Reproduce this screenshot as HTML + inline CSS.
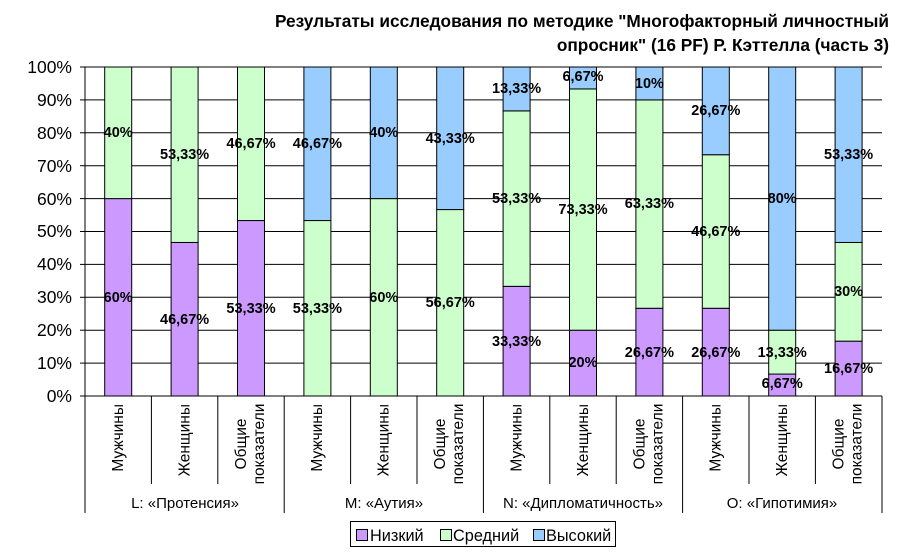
<!DOCTYPE html>
<html><head><meta charset="utf-8"><style>body{margin:0;background:#fff}svg{display:block}</style></head><body>
<svg width="897" height="557" xmlns="http://www.w3.org/2000/svg" font-family="Liberation Sans, Arial, sans-serif">
<g font-weight="bold" font-size="17.3" text-anchor="end">
<text x="889" y="27">Результаты исследования по методике "Многофакторный личностный</text>
<text x="889" y="51">опросник" (16 PF) Р. Кэттелла (часть 3)</text>
</g>
<g stroke="#000" stroke-width="1">
<line x1="85" y1="67" x2="882" y2="67"/><line x1="85" y1="99.9" x2="882" y2="99.9"/><line x1="85" y1="132.8" x2="882" y2="132.8"/><line x1="85" y1="165.7" x2="882" y2="165.7"/><line x1="85" y1="198.6" x2="882" y2="198.6"/><line x1="85" y1="231.5" x2="882" y2="231.5"/><line x1="85" y1="264.4" x2="882" y2="264.4"/><line x1="85" y1="297.3" x2="882" y2="297.3"/><line x1="85" y1="330.2" x2="882" y2="330.2"/><line x1="85" y1="363.1" x2="882" y2="363.1"/><line x1="80" y1="396" x2="882" y2="396"/>
<line x1="80" y1="67" x2="85" y2="67"/><line x1="80" y1="99.9" x2="85" y2="99.9"/><line x1="80" y1="132.8" x2="85" y2="132.8"/><line x1="80" y1="165.7" x2="85" y2="165.7"/><line x1="80" y1="198.6" x2="85" y2="198.6"/><line x1="80" y1="231.5" x2="85" y2="231.5"/><line x1="80" y1="264.4" x2="85" y2="264.4"/><line x1="80" y1="297.3" x2="85" y2="297.3"/><line x1="80" y1="330.2" x2="85" y2="330.2"/><line x1="80" y1="363.1" x2="85" y2="363.1"/>
<line x1="85" y1="67" x2="85" y2="513"/>
<line x1="151.4" y1="396" x2="151.4" y2="484"/><line x1="217.8" y1="396" x2="217.8" y2="484"/><line x1="284.2" y1="396" x2="284.2" y2="513"/><line x1="350.6" y1="396" x2="350.6" y2="484"/><line x1="417" y1="396" x2="417" y2="484"/><line x1="483.4" y1="396" x2="483.4" y2="513"/><line x1="549.8" y1="396" x2="549.8" y2="484"/><line x1="616.2" y1="396" x2="616.2" y2="484"/><line x1="682.6" y1="396" x2="682.6" y2="513"/><line x1="749" y1="396" x2="749" y2="484"/><line x1="815.4" y1="396" x2="815.4" y2="484"/><line x1="882" y1="396" x2="882" y2="513"/>
</g>
<g font-size="17.5" text-anchor="end">
<text x="72" y="73">100%</text><text x="72" y="106">90%</text><text x="72" y="139">80%</text><text x="72" y="172">70%</text><text x="72" y="205">60%</text><text x="72" y="237">50%</text><text x="72" y="270">40%</text><text x="72" y="303">30%</text><text x="72" y="336">20%</text><text x="72" y="369">10%</text><text x="72" y="402">0%</text>
</g>
<g stroke="#000" stroke-width="1">
<rect x="104.7" y="198.6" width="27" height="197.4" fill="#CC99FF"/><rect x="104.7" y="67" width="27" height="131.6" fill="#CCFFCC"/>
<rect x="171.1" y="242.46" width="27" height="153.54" fill="#CC99FF"/><rect x="171.1" y="67" width="27" height="175.46" fill="#CCFFCC"/>
<rect x="237.5" y="220.54" width="27" height="175.46" fill="#CC99FF"/><rect x="237.5" y="67" width="27" height="153.54" fill="#CCFFCC"/>
<rect x="303.9" y="220.54" width="27" height="175.46" fill="#CCFFCC"/><rect x="303.9" y="67" width="27" height="153.54" fill="#99CCFF"/>
<rect x="370.3" y="198.6" width="27" height="197.4" fill="#CCFFCC"/><rect x="370.3" y="67" width="27" height="131.6" fill="#99CCFF"/>
<rect x="436.7" y="209.56" width="27" height="186.44" fill="#CCFFCC"/><rect x="436.7" y="67" width="27" height="142.56" fill="#99CCFF"/>
<rect x="503.1" y="286.34" width="27" height="109.66" fill="#CC99FF"/><rect x="503.1" y="110.89" width="27" height="175.45" fill="#CCFFCC"/><rect x="503.1" y="67" width="27" height="43.89" fill="#99CCFF"/>
<rect x="569.5" y="330.2" width="27" height="65.8" fill="#CC99FF"/><rect x="569.5" y="88.94" width="27" height="241.26" fill="#CCFFCC"/><rect x="569.5" y="67" width="27" height="21.94" fill="#99CCFF"/>
<rect x="635.9" y="308.26" width="27" height="87.74" fill="#CC99FF"/><rect x="635.9" y="99.9" width="27" height="208.36" fill="#CCFFCC"/><rect x="635.9" y="67" width="27" height="32.9" fill="#99CCFF"/>
<rect x="702.3" y="308.26" width="27" height="87.74" fill="#CC99FF"/><rect x="702.3" y="154.71" width="27" height="153.55" fill="#CCFFCC"/><rect x="702.3" y="67" width="27" height="87.71" fill="#99CCFF"/>
<rect x="768.7" y="374.06" width="27" height="21.94" fill="#CC99FF"/><rect x="768.7" y="330.2" width="27" height="43.86" fill="#CCFFCC"/><rect x="768.7" y="67" width="27" height="263.2" fill="#99CCFF"/>
<rect x="835.1" y="341.16" width="27" height="54.84" fill="#CC99FF"/><rect x="835.1" y="242.46" width="27" height="98.7" fill="#CCFFCC"/><rect x="835.1" y="67" width="27" height="175.46" fill="#99CCFF"/>
</g>
<g font-size="14.5" font-weight="bold" text-anchor="middle">
<text x="118.2" y="302">60%</text><text x="118.2" y="137">40%</text>
<text x="184.6" y="324">46,67%</text><text x="184.6" y="159">53,33%</text>
<text x="251" y="313">53,33%</text><text x="251" y="148">46,67%</text>
<text x="317.4" y="313">53,33%</text><text x="317.4" y="148">46,67%</text>
<text x="383.8" y="302">60%</text><text x="383.8" y="137">40%</text>
<text x="450.2" y="307">56,67%</text><text x="450.2" y="143">43,33%</text>
<text x="516.6" y="346">33,33%</text><text x="516.6" y="203">53,33%</text><text x="516.6" y="93">13,33%</text>
<text x="583" y="367">20%</text><text x="583" y="214">73,33%</text><text x="583" y="81">6,67%</text>
<text x="649.4" y="357">26,67%</text><text x="649.4" y="208">63,33%</text><text x="649.4" y="88">10%</text>
<text x="715.8" y="357">26,67%</text><text x="715.8" y="236">46,67%</text><text x="715.8" y="115">26,67%</text>
<text x="782.2" y="388">6,67%</text><text x="782.2" y="357">13,33%</text><text x="782.2" y="203">80%</text>
<text x="848.6" y="373">16,67%</text><text x="848.6" y="296">30%</text><text x="848.6" y="159">53,33%</text>
</g>
<g font-size="15.5">
<text transform="translate(123,404) rotate(-90)" text-anchor="end">Мужчины</text>
<text transform="translate(189.4,404) rotate(-90)" text-anchor="end">Женщины</text>
<text transform="translate(246,444) rotate(-90)" text-anchor="middle">Общие</text>
<text transform="translate(264,444) rotate(-90)" text-anchor="middle">показатели</text>
<text transform="translate(322.2,404) rotate(-90)" text-anchor="end">Мужчины</text>
<text transform="translate(388.6,404) rotate(-90)" text-anchor="end">Женщины</text>
<text transform="translate(445.2,444) rotate(-90)" text-anchor="middle">Общие</text>
<text transform="translate(463.2,444) rotate(-90)" text-anchor="middle">показатели</text>
<text transform="translate(521.4,404) rotate(-90)" text-anchor="end">Мужчины</text>
<text transform="translate(587.8,404) rotate(-90)" text-anchor="end">Женщины</text>
<text transform="translate(644.4,444) rotate(-90)" text-anchor="middle">Общие</text>
<text transform="translate(662.4,444) rotate(-90)" text-anchor="middle">показатели</text>
<text transform="translate(720.6,404) rotate(-90)" text-anchor="end">Мужчины</text>
<text transform="translate(787,404) rotate(-90)" text-anchor="end">Женщины</text>
<text transform="translate(843.6,444) rotate(-90)" text-anchor="middle">Общие</text>
<text transform="translate(861.6,444) rotate(-90)" text-anchor="middle">показатели</text>
</g>
<g font-size="15" text-anchor="middle">
<text x="185" y="508">L: «Протенсия»</text>
<text x="384" y="508">M: «Аутия»</text>
<text x="583" y="508">N: «Дипломатичность»</text>
<text x="782" y="508">O: «Гипотимия»</text>
</g>
<rect x="350.5" y="521.5" width="265" height="25" fill="#fff" stroke="#000"/>
<g stroke="#000"><rect x="356.5" y="529.5" width="11" height="11" fill="#CC99FF"/><rect x="440.5" y="529.5" width="11" height="11" fill="#CCFFCC"/><rect x="533.5" y="529.5" width="11" height="11" fill="#99CCFF"/></g>
<g font-size="16.3"><text x="370" y="541">Низкий</text><text x="453" y="541">Средний</text><text x="546" y="541">Высокий</text></g>
</svg>
</body></html>
